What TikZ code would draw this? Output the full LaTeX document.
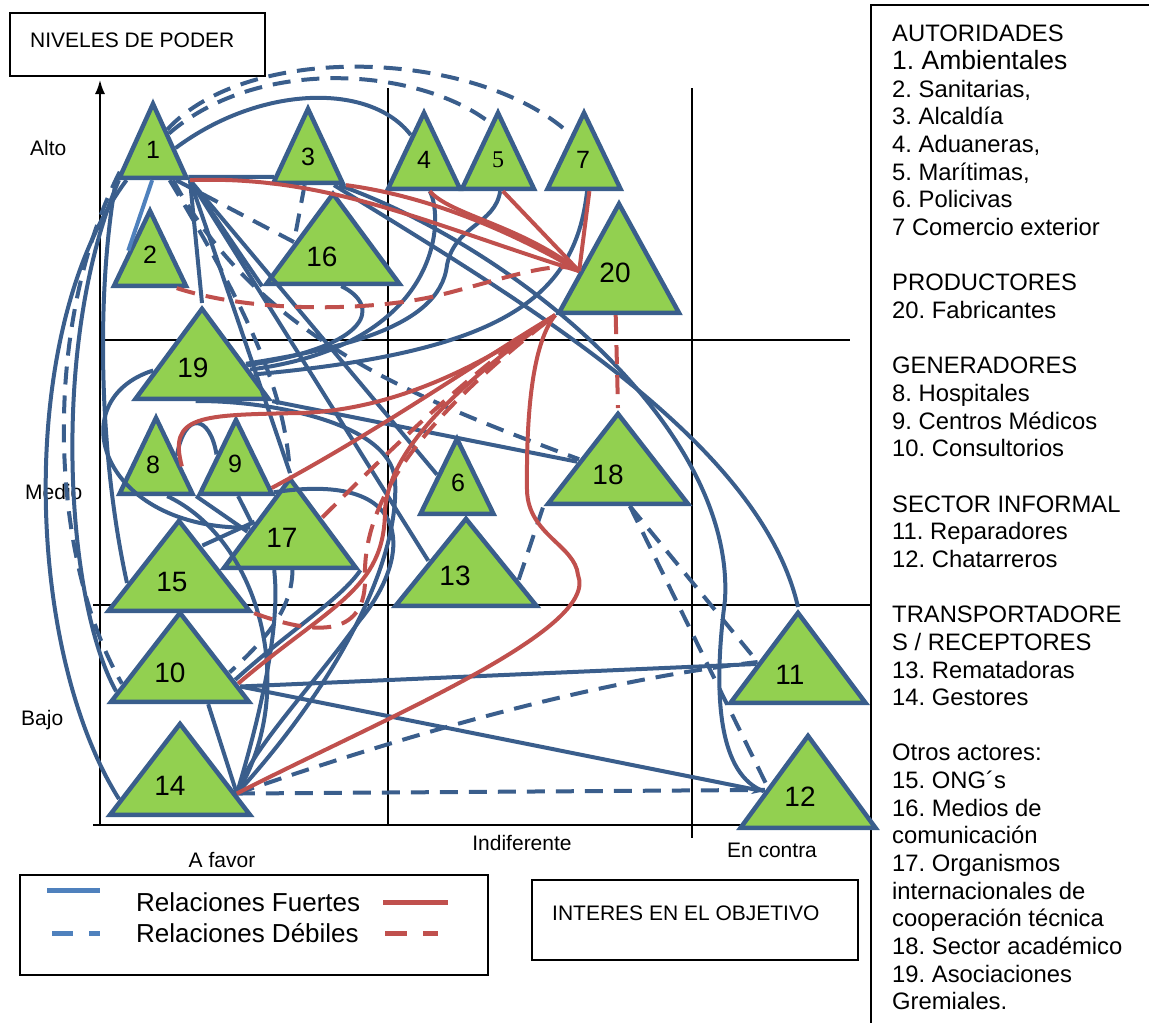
\documentclass[tikz,border=0pt]{standalone}
\usepackage{fontspec}
\setmainfont{Liberation Sans}
\newfontfamily\serifnum{Liberation Serif}
\frenchspacing
\usetikzlibrary{shapes.geometric,arrows.meta}
\definecolor{azul}{RGB}{58,94,140}
\definecolor{azulclaro}{RGB}{79,129,189}
\definecolor{rojo}{RGB}{192,80,77}
\definecolor{verde}{RGB}{146,208,80}
\tikzset{
  actor/.style={isosceles triangle, isosceles triangle stretches, shape border rotate=90,
    draw=azul, fill=verde, line width=4.5pt, inner sep=0pt, anchor=apex},
  num/.style={font=\fontsize{25}{25}\selectfont, inner sep=0pt},
  bignum/.style={font=\fontsize{28}{28}\selectfont, inner sep=0pt},
  fuerte/.style={draw=azul, line width=4pt},
  debil/.style={fuerte, dash pattern=on 18pt off 11pt},
  rfuerte/.style={draw=rojo, line width=4pt},
  rdebil/.style={rfuerte, dash pattern=on 19pt off 11pt},
  eje/.style={line width=1.8pt},
  rotulo/.style={font=\fontsize{21}{21}\selectfont, inner sep=0pt},
  leyenda/.style={font=\fontsize{26}{26}\selectfont, inner sep=0pt},
  caja/.style={draw, line width=1.5pt}
}
\begin{document}
\begin{tikzpicture}[x=1pt,y=-1pt]
\useasboundingbox (0,0) rectangle (1149,1023);
% cuadricula y ejes
\draw[eje] (388,88) -- (388,825);
\draw[eje] (692,88) -- (692,838);
\draw[eje] (100,340) -- (850,340);
\draw[eje] (93,605) -- (871,605);
\draw[eje,-{Latex[length=14pt,width=10pt]}] (100,825) -- (100,80);
\draw[eje,-{Latex[length=14pt,width=10pt]}] (93,825) -- (873,825);
% cajas de texto
\draw[caja] (10,13) rectangle (265,76);
\node[rotulo, anchor=west] (poder) at (30,40) {NIVELES DE PODER};
\draw[caja] (532,880) rectangle (858,960);
\node[rotulo, anchor=west] (interes) at (552,913) {INTERES EN EL OBJETIVO};
\node[rotulo, anchor=west] (alto) at (30,148) {Alto};
\node[rotulo, anchor=west] (medio) at (25,492) {Medio};
\node[rotulo, anchor=west] (bajo) at (21,720) {Bajo};
\node[rotulo] (favor) at (222,860) {A favor};
\node[rotulo] (indif) at (522,843) {Indiferente};
\node[rotulo] (contra) at (772,850) {En contra};
% convenciones
\draw[caja] (20,875) rectangle (488,975);
\draw[azulclaro, line width=5pt] (47,890) -- (100,890);
\draw[azulclaro, line width=5pt, dash pattern=on 21pt off 16pt] (52,933) -- (100,933);
\draw[rojo, line width=5pt] (383,902) -- (448,902);
\draw[rojo, line width=5pt, dash pattern=on 22pt off 16pt] (385,933) -- (438,933);
\node[leyenda, anchor=west] (fuertes) at (136,902) {Relaciones Fuertes};
\node[leyenda, anchor=west] (debiles) at (136,933) {Relaciones Débiles};
% lista de actores
\draw[caja] (871,5) rectangle (1160,1040);
\node[anchor=north west, inner sep=0pt, align=left, font=\fontsize{23.8}{27.66}\selectfont] (lista) at (892,25)
  {AUTORIDADES\\ {\fontsize{26.5}{27.66}\selectfont 1. Ambientales}\\ 2. Sanitarias,\\ 3. Alcaldía\\
   4. Aduaneras,\\ 5. Marítimas,\\ 6. Policivas\\ 7 Comercio exterior\\[27.66pt]
   PRODUCTORES\\ 20. Fabricantes\\[27.66pt]
   GENERADORES\\ 8. Hospitales\\ 9. Centros Médicos\\ 10. Consultorios\\[27.66pt]
   SECTOR INFORMAL\\ 11. Reparadores\\ 12. Chatarreros\\[27.66pt]
   TRANSPORTADORE\\ S / RECEPTORES\\ 13. Rematadoras\\ 14. Gestores\\[27.66pt]
   Otros actores:\\ 15. ONG´s\\ 16. Medios de\\ comunicación\\ 17. Organismos\\
   internacionales de\\ cooperación técnica\\ 18. Sector académico\\ 19. Asociaciones\\ Gremiales.};
% actores
\node[actor, minimum width=67pt, minimum height=74pt] (a1) at (153,98) {};
\node[actor, minimum width=72pt, minimum height=75pt] (a2) at (150,205) {};
\node[actor, minimum width=69pt, minimum height=74pt] (a3) at (308,103) {};
\node[actor, minimum width=72pt, minimum height=76pt] (a4) at (424,107) {};
\node[actor, minimum width=72pt, minimum height=76pt] (a5) at (498,107) {};
\node[actor, minimum width=73pt, minimum height=76pt] (a7) at (584,107) {};
\node[actor, minimum width=133pt, minimum height=90pt] (a16) at (333,188) {};
\node[actor, minimum width=120pt, minimum height=109pt] (a20) at (619,198) {};
\node[actor, minimum width=133pt, minimum height=90pt] (a19) at (202,303) {};
\node[actor, minimum width=73pt, minimum height=76pt] (a8) at (156,412) {};
\node[actor, minimum width=72pt, minimum height=74pt] (a9) at (236,414) {};
\node[actor, minimum width=132pt, minimum height=89pt] (a17) at (290,473) {};
\node[actor, minimum width=141pt, minimum height=90pt] (a15) at (179,515) {};
\node[actor, minimum width=138pt, minimum height=89pt] (a10) at (180,607) {};
\node[actor, minimum width=140pt, minimum height=91pt] (a14) at (180,718) {};
\node[actor, minimum width=73pt, minimum height=75pt] (a6) at (457,433) {};
\node[actor, minimum width=141pt, minimum height=87pt] (a13) at (466,513) {};
\node[actor, minimum width=140pt, minimum height=90pt] (a18) at (618,408) {};
\node[actor, minimum width=135pt, minimum height=90pt] (a11) at (798,607) {};
\node[actor, minimum width=135pt, minimum height=92pt] (a12) at (808,730) {};
% relaciones fuertes
\draw[fuerte] (a1.-30) -- (a3.205);
\draw[fuerte] (a1.20) .. controls (260,85) and (370,82) .. (a4.113);
\draw[fuerte] (a1.right corner) -- (a19.apex);
\draw[fuerte] (a1.right corner) -- (a16.left corner);
\draw[fuerte] (a1.right corner) -- (a13.163);
\draw[fuerte] (a1.right corner) -- (a6.left side);
\draw[fuerte] (a1.right corner) -- (a17.apex);
\draw[fuerte] (a1.222) .. controls (15,330) and (25,650) .. (a14.197);
\draw[fuerte] (a1.left corner) .. controls (95,300) and (100,460) .. (a15.187);
\draw[fuerte] (a1.215) .. controls (50,340) and (65,600) .. (a10.200);
\draw[fuerte] (a19.186) .. controls (60,400) and (100,530) .. (a17.170);
\draw[fuerte] (a19.-10) .. controls (500,352) and (575,300) .. (a7.-83);
\draw[fuerte] (a19.-5) .. controls (440,345) and (445,220) .. (a4.-77);
\draw[fuerte] (a5.-85) .. controls (495,225) and (455,225) .. (447,265) .. controls (440,330) and (330,350) .. (a19.2);
\draw[fuerte] (a16.-77) .. controls (380,305) and (375,345) .. (a19.0);
\draw[fuerte] (a19.-27) -- (a18.169);
\draw[fuerte] (a3.-43) .. controls (520,300) and (760,440) .. (a11.apex);
\draw[fuerte] (a3.-38) .. controls (520,250) and (735,430) .. (725,600) .. controls (712,700) and (720,775) .. (a12.177);
\draw[fuerte] (a8.right corner) -- (a17.176);
\draw[fuerte] (a8.36) .. controls (185,410) and (210,415) .. (a9.139);
\draw[fuerte] (a9.-85) -- (a17.165);
\draw[fuerte] (a9.-29) .. controls (420,470) and (410,560) .. (360,620) .. controls (310,690) and (250,750) .. (a14.-13);
\draw[fuerte] (a8.-66) .. controls (260,540) and (300,690) .. (a14.-13);
\draw[fuerte] (a15.53) -- (a17.160);
\draw[fuerte] (a10.-17) -- (a11.173);
\draw[fuerte, -{Stealth[length=12pt,width=10pt]}] (a10.-17) -- (a12.177);
\draw[fuerte] (a10.-52) -- (a14.-13);
\draw[fuerte] (a10.-12) .. controls (290,630) and (340,600) .. (a17.right corner);
\draw[fuerte] (a14.-13) .. controls (265,700) and (280,620) .. (a17.-114);
\draw[fuerte] (a14.-13) .. controls (340,680) and (400,560) .. (395,480) .. controls (390,420) and (260,400) .. (a19.-100);
\draw[azulclaro, line width=4pt] (a1.-92) -- (a2.150);
% relaciones debiles
\draw[debil] (a1.62) .. controls (250,40) and (480,50) .. (a7.113);
\draw[debil] (a1.55) .. controls (260,55) and (420,68) .. (a5.100);
\draw[debil] (a1.-46) -- (a16.168);
\draw[debil] (a3.-98) -- (a16.168);
\draw[debil] (a1.205) .. controls (40,330) and (50,560) .. (a10.195);
\draw[debil] (a1.-55) .. controls (260,330) and (285,400) .. (a17.apex);
\draw[debil] (a1.-50) .. controls (260,340) and (420,400) .. (a18.165);
\draw[debil] (a17.-86) .. controls (292,610) and (265,640) .. (a10.-5);
\draw[debil] (a14.-13) .. controls (420,730) and (600,680) .. (a11.170);
\draw[debil] (a14.-13) -- (a12.175);
\draw[debil] (a18.-72) -- (a12.170);
\draw[debil] (a18.-72) -- (a11.170);
\draw[debil] (a13.-8) -- (a18.left corner);
% relaciones con fabricantes
\draw[rfuerte] (a1.right corner) .. controls (330,175) and (430,225) .. (a20.171);
\draw[rfuerte] (a3.right corner) .. controls (420,195) and (500,225) .. (a20.171);
\draw[rfuerte] (a4.-77) .. controls (450,215) and (520,225) .. (a20.171);
\draw[rfuerte] (a5.-79) -- (a20.171);
\draw[rfuerte] (a7.-78) -- (a20.171);
\draw[rfuerte] (a10.-15) .. controls (330,605) and (385,590) .. (385,510) .. controls (390,440) and (480,370) .. (a20.left corner);
\draw[rfuerte] (a14.-13) .. controls (380,720) and (600,630) .. (578,575) .. controls (575,545) and (528,535) .. (527,490) .. controls (526,400) and (535,340) .. (a20.left corner);
\draw[rfuerte] (a9.-25) .. controls (380,430) and (480,360) .. (a20.left corner);
\draw[rfuerte] (a8.10) .. controls (168,415) and (200,415) .. (300,413) .. controls (400,410) and (490,360) .. (a20.left corner);
\draw[rdebil] (a2.-43) .. controls (260,315) and (380,310) .. (440,295) .. controls (500,280) and (560,258) .. (a20.171);
\draw[rdebil] (a20.-95) -- (a18.apex);
\draw[rdebil] (a15.right corner) .. controls (300,630) and (365,645) .. (365,580) .. controls (362,500) and (420,420) .. (a20.left corner);
\draw[rdebil] (a17.28) .. controls (380,460) and (470,370) .. (a20.left corner);
% numeros
\node[num] (n1) at (153,150) {1};
\node[num] (n2) at (150,255) {2};
\node[num] (n3) at (308,157) {3};
\node[num] (n4) at (424,160) {4};
\node[num, font=\serifnum\fontsize{24}{24}\selectfont] (n5) at (498,160) {5};
\node[num] (n7) at (583,160) {7};
\node[num] (n8) at (153,465) {8};
\node[num] (n9) at (235,464) {9};
\node[num] (n6) at (458,483) {6};
\node[bignum] (n16) at (322,257) {16};
\node[bignum] (n20) at (615,273) {20};
\node[bignum] (n19) at (193,368) {19};
\node[bignum] (n17) at (282,538) {17};
\node[bignum] (n15) at (172,582) {15};
\node[bignum] (n13) at (455,576) {13};
\node[bignum] (n18) at (608,475) {18};
\node[bignum] (n10) at (170,673) {10};
\node[bignum] (n14) at (170,786) {14};
\node[bignum] (n11) at (790,675) {11};
\node[bignum] (n12) at (800,797) {12};
\end{tikzpicture}
\end{document}
